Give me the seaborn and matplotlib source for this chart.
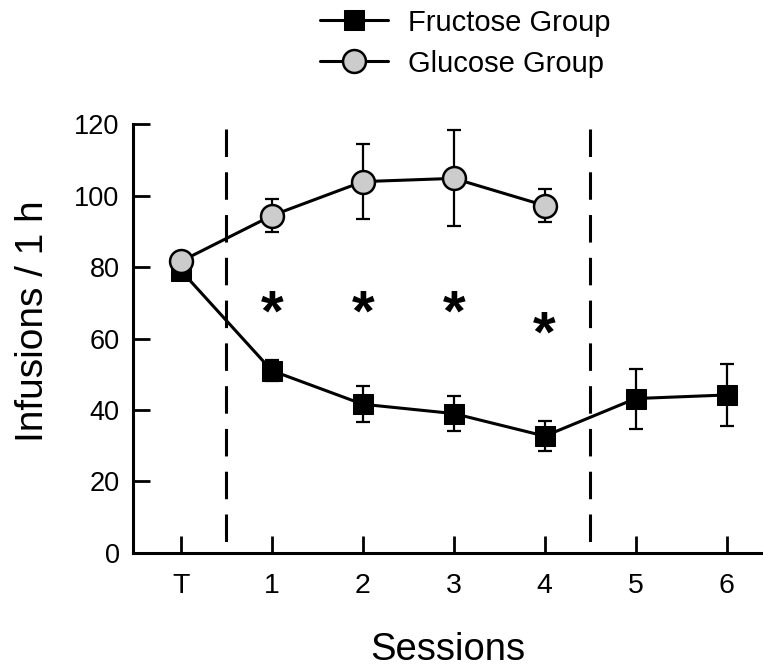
import numpy as np
import pandas as pd
import matplotlib
matplotlib.use("Agg")
import matplotlib.pyplot as plt
import seaborn as sns

sns.set_style("ticks")
plt.rcParams['font.family'] = ['Liberation Sans', 'DejaVu Sans']
plt.rcParams.update({'text.color': 'black', 'axes.labelcolor': 'black',
                     'xtick.color': 'black', 'ytick.color': 'black'})

# data
sessions = ['T', '1', '2', '3', '4', '5', '6']
fructose_mean = [79.0, 51.0, 41.6, 39.0, 32.7, 43.2, 44.2]
fructose_err = [2.0, 3.0, 5.1, 5.0, 4.2, 8.4, 8.6]
glucose_mean = [81.6, 94.4, 103.9, 104.8, 97.2]
glucose_err = [2.0, 4.7, 10.6, 13.4, 4.7]
star_sessions = ['1', '2', '3', '4']
star_y = [70, 70, 70, 64]
phase_bounds = [0.5, 4.5]

pos = {s: i for i, s in enumerate(sessions)}
fru = pd.DataFrame({'x': [pos[s] for s in sessions], 'y': fructose_mean, 'err': fructose_err})
glu = pd.DataFrame({'x': [pos[s] for s in sessions[:len(glucose_mean)]], 'y': glucose_mean, 'err': glucose_err})

fig = plt.figure(figsize=(7.63, 6.67), dpi=100)
ax = fig.add_axes([0.174, 0.171, 0.826, 0.643])

# dashed phase separators, drawn top-down so the dash pattern starts at the top
for xb in phase_bounds:
    ax.plot([xb, xb], [118.6, -0.5], color='black', lw=2.2, dashes=(9, 5), zorder=1, clip_on=False)

# error bars (behind markers)
ax.errorbar(fru['x'], fru['y'], yerr=fru['err'], fmt='none', ecolor='black',
            elinewidth=1.6, capsize=5, capthick=1.6, zorder=2, clip_on=False)
ax.errorbar(glu['x'], glu['y'], yerr=glu['err'], fmt='none', ecolor='black',
            elinewidth=1.6, capsize=5, capthick=1.6, zorder=2, clip_on=False)

sns.lineplot(data=fru, x='x', y='y', ax=ax, color='black', lw=2.2, marker='s',
             markersize=15, markerfacecolor='black', markeredgecolor='black',
             label='Fructose Group', zorder=3, clip_on=False)
sns.lineplot(data=glu, x='x', y='y', ax=ax, color='black', lw=2.2, marker='o',
             markersize=16.5, markerfacecolor='#cccccc', markeredgecolor='black',
             markeredgewidth=1.8, label='Glucose Group', zorder=4, clip_on=False)

for s, yv in zip(star_sessions, star_y):
    ax.text(pos[s], yv - 3.5, '*', ha='center', va='center', fontsize=42, fontweight='bold')

ax.set_xlim(-0.53, 6.4)
ax.set_ylim(0, 120)
ax.set_xticks(range(len(sessions)))
ax.set_xticklabels(sessions)
ax.set_yticks(np.arange(0, 121, 20))
ax.tick_params(axis='both', direction='in', length=12.5, width=2, color='black')
ax.tick_params(axis='y', pad=9.5, labelsize=19.5)
ax.tick_params(axis='x', pad=14.5, labelsize=20.5)
for side in ['top', 'right']:
    ax.spines[side].set_visible(False)
for side in ['left', 'bottom']:
    ax.spines[side].set_linewidth(2.2)
    ax.spines[side].set_color('black')

ax.set_xlabel('Sessions', fontsize=27.5, labelpad=24)
ax.set_ylabel('Infusions / 1 h', fontsize=28)
ax.yaxis.set_label_coords(-0.13, 0.54)

handles, labels = ax.get_legend_handles_labels()
ax.get_legend().remove()
fig.legend(handles, labels, loc='upper left', bbox_to_anchor=(0.42, 0.987),
           frameon=False, fontsize=21, handlelength=2.3, handletextpad=0.7,
           labelspacing=0.44, borderpad=0, borderaxespad=0)

fig.savefig('out.png', dpi=100)
